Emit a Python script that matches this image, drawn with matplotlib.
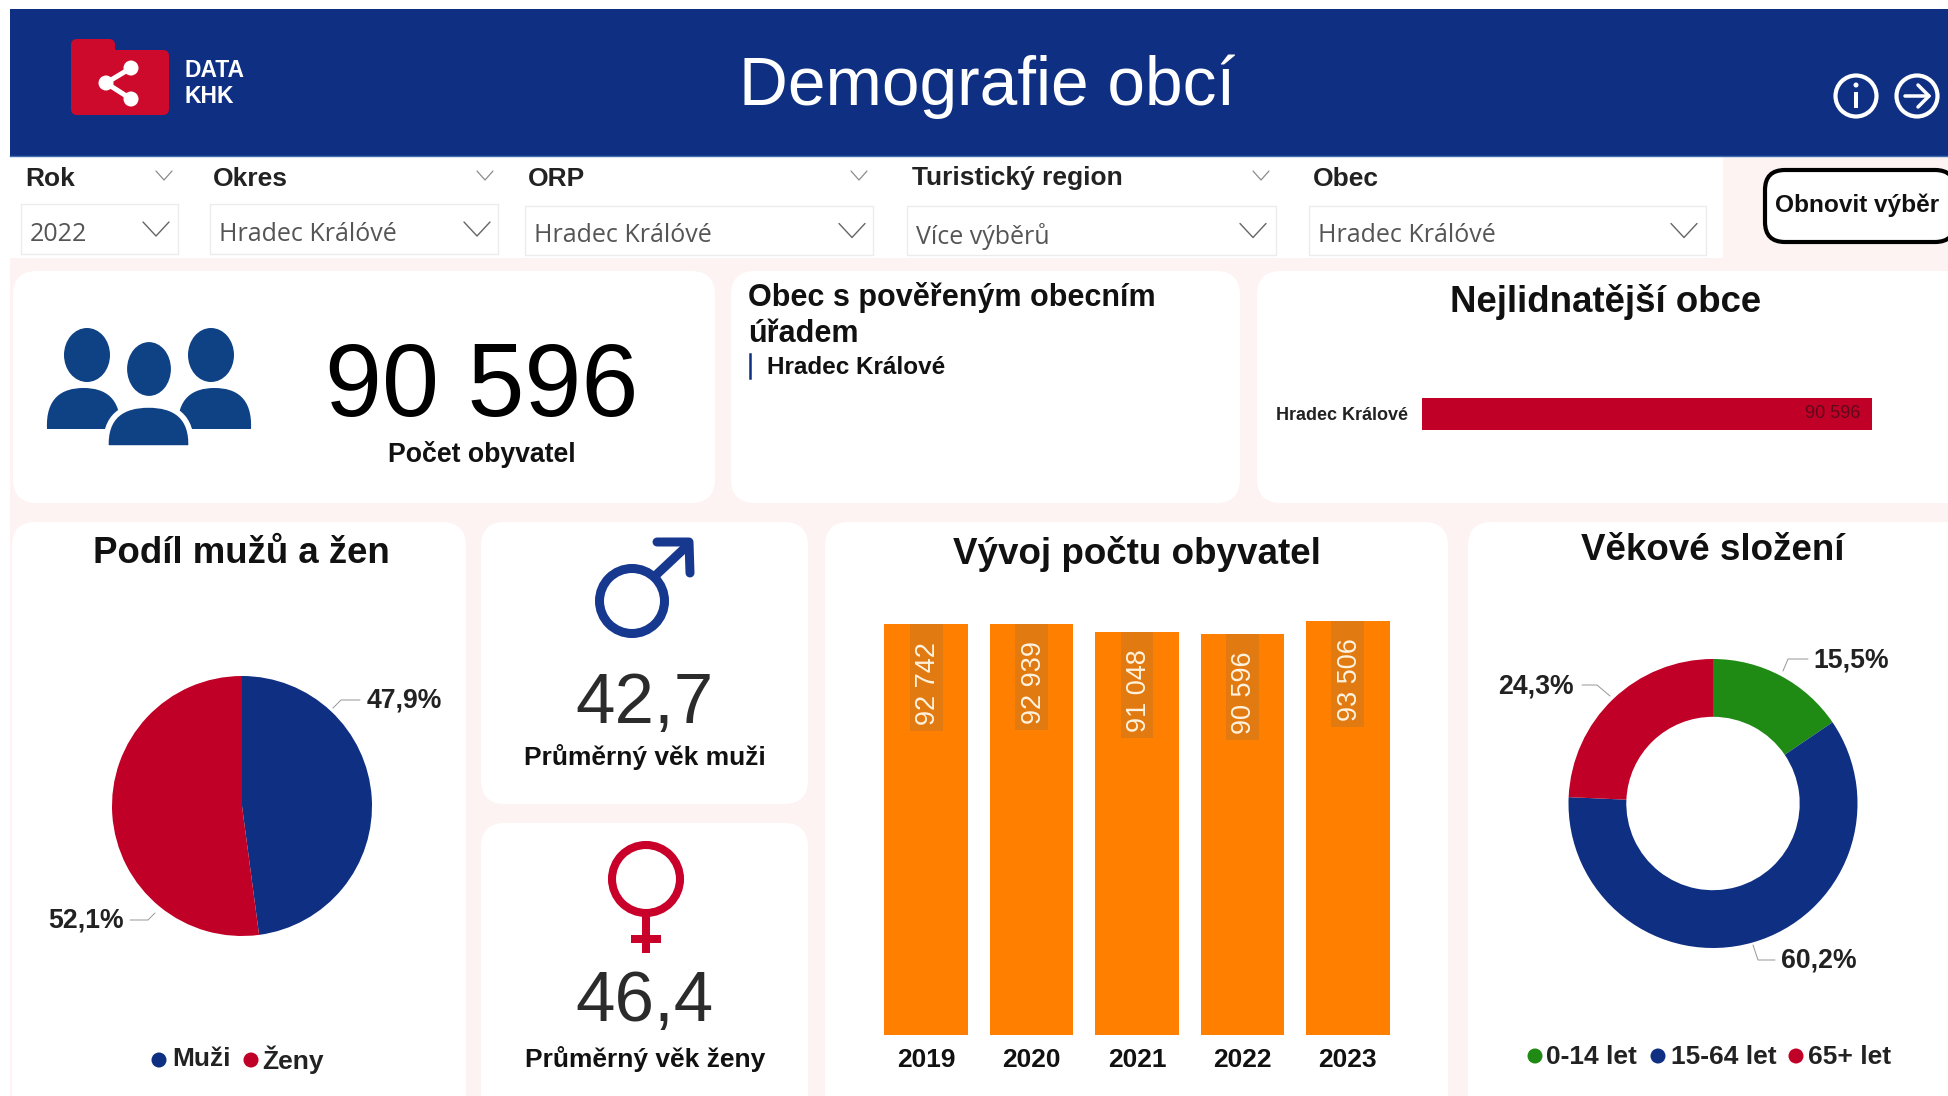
import matplotlib
matplotlib.use("Agg")
import numpy as np
import matplotlib.pyplot as plt
from matplotlib.patches import FancyBboxPatch, Rectangle, Circle, Ellipse, PathPatch
from matplotlib.path import Path

plt.rcParams["font.family"] = ["Liberation Sans", "DejaVu Sans"]

NAVY = "#0E2F82"
RED = "#C00027"
GREEN = "#1F8A14"
ORANGE = "#FF8000"
PINK = "#FDF3F3"

years = ["2019", "2020", "2021", "2022", "2023"]
population = [92742, 92939, 91048, 90596, 93506]
gender_labels = ["Muži", "Ženy"]
gender_share = [47.9, 52.1]
age_labels = ["0-14 let", "15-64 let", "65+ let"]
age_share = [15.5, 60.2, 24.3]
top_towns = ["Hradec Králové"]
top_values = [90596]
filter_titles = ["Rok", "Okres", "ORP", "Turistický region", "Obec"]
filter_values = ["2022", "Hradec Král\u00f3v\u00e9", "Hradec Král\u00f3v\u00e9", "Více výběrů", "Hradec Král\u00f3v\u00e9"]
avg_age_men = 42.7
avg_age_women = 46.4
total_people = 90596


def cz_num(v):
    return f"{v:,}".replace(",", " ")


def cz_dec(v):
    return f"{v:.1f}".replace(".", ",")


fig = plt.figure(figsize=(19.49, 10.96), dpi=100, facecolor="white")
bg = fig.add_axes([0, 0, 1, 1], zorder=0)
bg.set_xlim(0, 1949)
bg.set_ylim(1096, 0)
bg.axis("off")


def px_axes(x0, y0, x1, y1):
    ax = fig.add_axes([x0 / 1949, 1 - y1 / 1096, (x1 - x0) / 1949, (y1 - y0) / 1096], zorder=2)
    ax.patch.set_alpha(0)
    return ax


def txt(x, y, s, size, weight="normal", color="black", ha="center", **kw):
    return bg.text(x, y + 1.5, s, fontsize=size, fontweight=weight, color=color, ha=ha, va="center", **kw)


def card(x0, y0, x1, y1, r=24, fc="white"):
    bg.add_patch(FancyBboxPatch((x0, y0), x1 - x0, y1 - y0, boxstyle=f"round,pad=0,rounding_size={r}",
                                fc=fc, ec="none"))


def stroke(xs, ys, color, lw_px, cap="round"):
    bg.plot(xs, ys, color=color, lw=lw_px * 0.72, solid_capstyle=cap, solid_joinstyle="round")


def dome(x0, x1, ytop, ybot, edge=None):
    w = x1 - x0
    verts = [(x0, ybot), (x0 - 0.02 * w, ytop + 0.25 * (ybot - ytop)), (x0 + 0.2 * w, ytop), (x0 + 0.5 * w, ytop),
             (x1 - 0.2 * w, ytop), (x1 + 0.02 * w, ytop + 0.25 * (ybot - ytop)), (x1, ybot), (x0, ybot)]
    codes = [Path.MOVETO, Path.CURVE4, Path.CURVE4, Path.CURVE4, Path.CURVE4, Path.CURVE4, Path.CURVE4, Path.CLOSEPOLY]
    bg.add_patch(PathPatch(Path(verts, codes), fc="#0F4285", ec=edge or "none", lw=4 if edge else 0))


# background
bg.add_patch(Rectangle((10, 156), 1939, 940, fc=PINK, ec="none"))
bg.add_patch(Rectangle((10, 156), 1713, 102, fc="white", ec="none"))
bg.add_patch(Rectangle((10, 9), 1939, 147, fc=NAVY, ec="none"))
bg.plot([10, 1949], [156, 156], color="#3F6DB0", lw=1)

# header
bg.add_patch(FancyBboxPatch((71, 50), 98, 65, boxstyle="round,pad=0,rounding_size=6", fc="#CE0A2C", ec="none"))
bg.add_patch(FancyBboxPatch((71, 39), 44, 30, boxstyle="round,pad=0,rounding_size=6", fc="#CE0A2C", ec="none"))
stroke([131, 106, 131], [68, 83, 99], "white", 5)
for cx, cy in [(131, 68), (106, 83), (131, 99)]:
    bg.add_patch(Circle((cx, cy), 7.5, fc="white", ec="none"))
txt(185, 69, "DATA", 16.5, "bold", "white", ha="left")
txt(185, 95, "KHK", 16.5, "bold", "white", ha="left")
txt(987, 85, "Demografie obcí", 48.7, color="white")
bg.add_patch(Circle((1856, 96), 20.5, fc="none", ec="white", lw=3))
stroke([1856, 1856], [92, 108], "white", 4, "butt")
bg.add_patch(Circle((1856, 85), 2.5, fc="white", ec="none"))
bg.add_patch(Circle((1917, 96), 20.5, fc="none", ec="white", lw=3))
stroke([1905, 1929], [96, 96], "white", 3.5)
stroke([1918, 1929, 1918], [85, 96, 107], "white", 3.5)

# filters
title_x = [25, 213, 528, 912, 1313]
small_chev = [164, 485, 859, 1261, None]
box_x = [(21, 178), (210, 498), (525, 873), (907, 1276), (1309, 1706)]
box_y = [(204, 254), (204, 254), (206, 255), (206, 255), (206, 255)]
value_x = [30, 219, 534, 916, 1318]
big_chev = [156, 477, 852, 1253, 1684]
for i in range(5):
    txt(title_x[i], 177, filter_titles[i], 19, "bold", "#222222", ha="left")
    b = Rectangle((box_x[i][0], box_y[i][0]), box_x[i][1] - box_x[i][0], box_y[i][1] - box_y[i][0],
                  fc="white", ec="#ECECEC", lw=1)
    bg.add_patch(b)
    ymid = sum(box_y[i]) / 2 + 4
    txt(value_x[i], ymid, filter_values[i], 18, color="#555555", ha="left", family="Open Sans")
    c = big_chev[i]
    stroke([c - 13, c, c + 13], [ymid - 11, ymid + 3, ymid - 11], "#666666", 1.4)
    if small_chev[i]:
        s = small_chev[i]
        stroke([s - 8, s, s + 8], [171, 180, 171], "#888888", 1.2)

bg.add_patch(FancyBboxPatch((1765, 170), 190, 72, boxstyle="round,pad=0,rounding_size=20", fc="white", ec="black", lw=3))
txt(1857, 204, "Obnovit výběr", 17.6, "bold", "#111111")

# cards
card(13, 271, 715, 503)
card(731, 271, 1240, 503)
card(1257, 271, 1975, 503)
card(12, 522, 466, 1125)
card(481, 522, 808, 804)
card(481, 823, 808, 1125)
card(825, 522, 1448, 1125)
card(1468, 522, 1975, 1125)

# people icon
dome(47, 120, 388, 429)
dome(178, 251, 388, 429)
bg.add_patch(Ellipse((87, 355), 46, 54, fc="#0F4285", ec="none"))
bg.add_patch(Ellipse((211, 355), 46, 54, fc="#0F4285", ec="none"))
bg.add_patch(Ellipse((149, 369), 48, 58, fc="#0F4285", ec="white", lw=3))
dome(106, 191, 405, 448, edge="white")

txt(482, 388, cz_num(total_people), 73.8, color="black")
txt(482, 453, "Počet obyvatel", 19.2, "bold", "#111111")

# municipality card
txt(748, 296, "Obec s pověřeným obecním", 22, "bold", "#111111", ha="left")
txt(748, 332, "úřadem", 22, "bold", "#111111", ha="left")
bg.plot([750, 750], [354, 378], color=NAVY, lw=1.8)
txt(767, 366, "Hradec Králové", 17.5, "bold", "#111111", ha="left")

# biggest towns
txt(1606, 300, "Nejlidnatější obce", 26.4, "bold", "#111111")
ax = px_axes(1422, 398, 1872, 430)
ax.barh(top_towns, top_values, height=1, color=RED)
ax.set_xlim(0, top_values[0])
ax.set_ylim(-0.5, 0.5)
ax.set_xticks([])
ax.tick_params(axis="y", length=0, pad=10)
for t in ax.get_yticklabels():
    t.set_fontsize(13)
    t.set_fontweight("bold")
    t.set_color("#222222")
for s in ax.spines.values():
    s.set_visible(False)
ax.annotate(cz_num(top_values[0]), (top_values[0], 0), xytext=(-8, 0), textcoords="offset points",
            ha="right", va="center", fontsize=13, color="#5E0A1A")

# pie
txt(241, 552, "Podíl mužů a žen", 26.4, "bold", "#111111")
ax = px_axes(112, 676, 372, 936)
ax.pie(gender_share, colors=[NAVY, RED], startangle=90, counterclock=False, radius=1)
ax.set_xlim(-1, 1)
ax.set_ylim(-1, 1)
stroke([333, 341, 360], [708, 700, 700], "#999999", 1)
stroke([155, 148, 130], [913, 920, 920], "#999999", 1)
txt(404, 699.5, cz_dec(gender_share[0]) + "%", 19.2, "bold", "#222222")
txt(86, 919.5, cz_dec(gender_share[1]) + "%", 19.2, "bold", "#222222")
bg.add_patch(Circle((159, 1060), 7.5, fc=NAVY, ec="none"))
txt(172, 1058, gender_labels[0], 19, "bold", "#222222", ha="left")
bg.add_patch(Circle((251, 1060), 7.5, fc=RED, ec="none"))
txt(262, 1058, gender_labels[1], 19, "bold", "#222222", ha="left")

# male
bg.add_patch(Circle((632, 601), 32.5, fc="none", ec="#17388F", lw=6.5))
stroke([655, 688], [576, 545], "#17388F", 9)
stroke([657, 689, 690], [542, 542, 573], "#17388F", 9)
txt(645, 703, cz_dec(avg_age_men), 51, color="#2B2B2B")
txt(645, 755, "Průměrný věk muži", 19, "bold", "#111111")

# female
bg.add_patch(Circle((646, 879), 34, fc="none", ec="#C8002A", lw=5.8))
stroke([646, 646], [913, 953], "#C8002A", 8, "butt")
stroke([631, 661], [939, 939], "#C8002A", 8, "butt")
txt(645, 1002, cz_dec(avg_age_women), 51, color="#2B2B2B")
txt(645, 1057, "Průměrný věk ženy", 19, "bold", "#111111")

# bars
txt(1137, 552, "Vývoj počtu obyvatel", 26.5, "bold", "#111111")
ax = px_axes(873.5, 621, 1400.5, 1035)
pos = np.arange(len(years))
ax.bar(pos, population, width=0.793, color=ORANGE)
ax.bar(pos, [24000] * len(years), bottom=[v - 24000 for v in population], width=0.31, color="#E27A12")
ax.set_xlim(-0.5, 4.5)
ax.set_ylim(0, max(population))
ax.set_xticks(pos, years, fontsize=19, fontweight="bold", color="#111111")
ax.set_yticks([])
ax.tick_params(axis="x", length=0, pad=9.5)
for s in ax.spines.values():
    s.set_visible(False)
for i, v in enumerate(population):
    ax.annotate(cz_num(v), (i, v), xytext=(1.5, -12.5), textcoords="offset points", rotation=90,
                ha="center", va="top", fontsize=19.5, color="#FFF3DF")

# donut
txt(1713, 549, "Věkové složení", 26.5, "bold", "#111111")
ax = px_axes(1568.5, 659, 1857.5, 948)
ax.pie(age_share, colors=[GREEN, NAVY, RED], startangle=90, counterclock=False, radius=1,
       wedgeprops={"width": 0.4})
ax.set_xlim(-1, 1)
ax.set_ylim(-1, 1)
stroke([1783, 1788, 1808], [671, 659, 659], "#999999", 1)
stroke([1610, 1597, 1582], [696, 685, 685], "#999999", 1)
stroke([1753, 1758, 1775], [945, 960, 960], "#999999", 1)
txt(1851, 659, cz_dec(age_share[0]) + "%", 19.2, "bold", "#222222")
txt(1536, 685, cz_dec(age_share[2]) + "%", 19.2, "bold", "#222222")
txt(1819, 959.5, cz_dec(age_share[1]) + "%", 19.2, "bold", "#222222")
dot_x = [1535, 1658, 1796]
lab_x = [1546, 1671, 1808]
for i, col in enumerate([GREEN, NAVY, RED]):
    bg.add_patch(Circle((dot_x[i], 1056), 7.5, fc=col, ec="none"))
    txt(lab_x[i], 1055, age_labels[i], 19, "bold", "#222222", ha="left")

fig.savefig("out.png", dpi=100)
